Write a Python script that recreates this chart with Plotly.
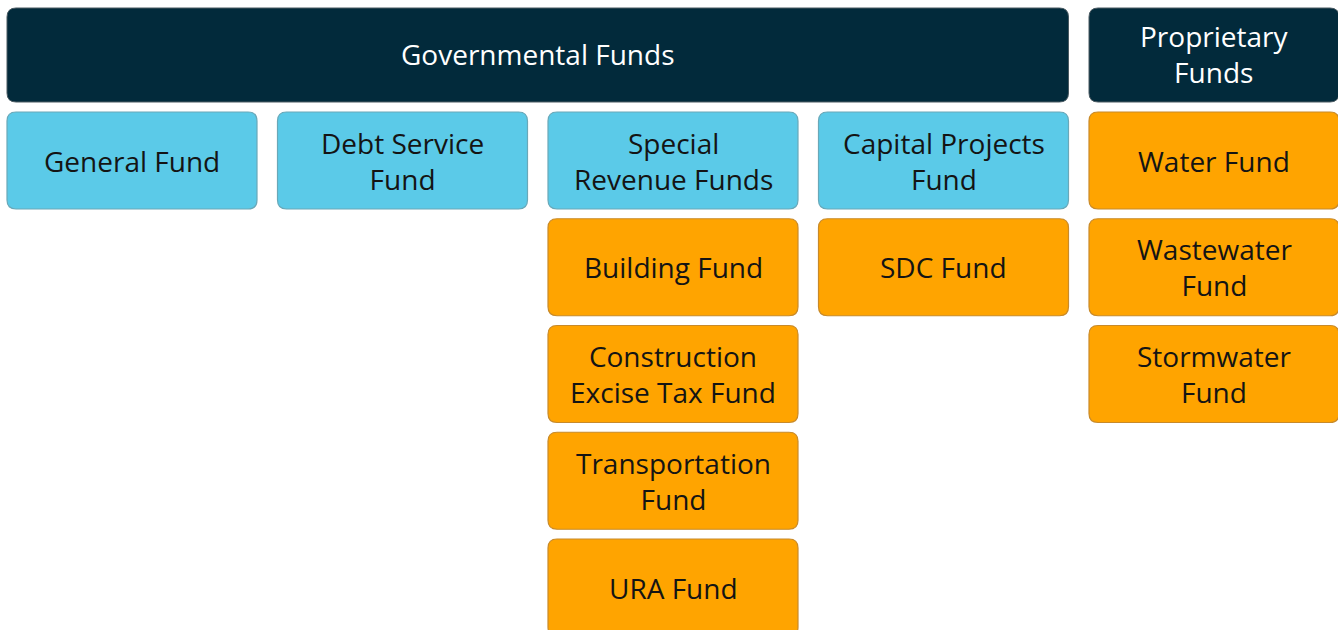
import plotly.graph_objects as go

# ---- data ----
header_labels = ["Governmental Funds", "Proprietary<br>Funds"]
header_col_start = [0, 4]
header_col_end = [3, 4]

box_labels = [
    "General Fund", "Debt Service<br>Fund", "Special<br>Revenue Funds", "Capital Projects<br>Fund", "Water Fund",
    "Building Fund", "SDC Fund", "Wastewater<br>Fund",
    "Construction<br>Excise Tax Fund", "Stormwater<br>Fund",
    "Transportation<br>Fund",
    "URA Fund",
]
box_cols = [0, 1, 2, 3, 4, 2, 3, 4, 2, 4, 2, 2]
box_rows = [0, 0, 0, 0, 0, 1, 1, 1, 2, 2, 3, 4]
box_kind = ["blue", "blue", "blue", "blue", "orange",
            "orange", "orange", "orange", "orange", "orange", "orange", "orange"]

# ---- style ----
W, H = 1338, 630
X0, COLW, COLSTEP = 7, 250, 270.5
HEAD_Y0, HEAD_H = 8, 94
ROW_Y0, ROWH, ROWSTEP = 112, 97, 106.75
NAVY = "#022a3b"
FILL = {"blue": "#5bcae8", "orange": "#ffa400"}
EDGE = {"blue": "#6aa8b8", "orange": "#c88a2a"}
FONT = "'Open Sans', sans-serif"
FSIZE = 28


def rrect(x0, y0, x1, y1, r=9):
    return (f"M {x0+r},{y0} L {x1-r},{y0} Q {x1},{y0} {x1},{y0+r} "
            f"L {x1},{y1-r} Q {x1},{y1} {x1-r},{y1} L {x0+r},{y1} "
            f"Q {x0},{y1} {x0},{y1-r} L {x0},{y0+r} Q {x0},{y0} {x0+r},{y0} Z")


fig = go.Figure()
shapes, annotations = [], []

for lab, c0, c1 in zip(header_labels, header_col_start, header_col_end):
    x0 = X0 + c0 * COLSTEP
    x1 = X0 + c1 * COLSTEP + COLW
    y0, y1 = HEAD_Y0, HEAD_Y0 + HEAD_H
    shapes.append(dict(type="path", path=rrect(x0, y0, x1, y1), fillcolor=NAVY,
                       line=dict(color="#4a5a62", width=1), layer="below"))
    annotations.append(dict(x=(x0 + x1) / 2, y=(y0 + y1) / 2 - 1, text=lab, showarrow=False,
                            font=dict(family=FONT, size=FSIZE, color="white"),
                            xanchor="center", yanchor="middle"))

for lab, c, r, k in zip(box_labels, box_cols, box_rows, box_kind):
    x0 = X0 + c * COLSTEP
    x1 = x0 + COLW
    y0 = ROW_Y0 + r * ROWSTEP
    y1 = y0 + ROWH
    shapes.append(dict(type="path", path=rrect(x0, y0, x1, y1), fillcolor=FILL[k],
                       line=dict(color=EDGE[k], width=1.2), layer="below"))
    annotations.append(dict(x=(x0 + x1) / 2, y=(y0 + y1) / 2, text=lab, showarrow=False,
                            font=dict(family=FONT, size=FSIZE, color="#141414"),
                            xanchor="center", yanchor="middle"))

fig.update_layout(
    width=W, height=H,
    margin=dict(l=0, r=0, t=0, b=0),
    paper_bgcolor="white", plot_bgcolor="white",
    shapes=shapes, annotations=annotations,
    xaxis=dict(range=[0, W], visible=False, fixedrange=True),
    yaxis=dict(range=[H, 0], visible=False, fixedrange=True),
    showlegend=False,
)
fig.write_html("out.html", config={"displayModeBar": False},
               post_script="document.body.style.margin='0';document.body.style.overflow='hidden';")
